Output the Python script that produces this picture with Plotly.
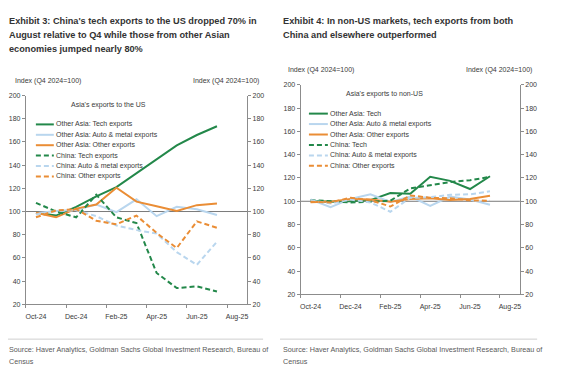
import plotly.graph_objects as go

W, H = 574, 375

# ---------------- data ----------------
months = ["Oct-24", "Nov-24", "Dec-24", "Jan-25", "Feb-25", "Mar-25",
          "Apr-25", "May-25", "Jun-25", "Jul-25"]
axis_months = months + ["Aug-25"]
tick_labels = ["Oct-24", "Dec-24", "Feb-25", "Apr-25", "Jun-25", "Aug-25"]
y_ticks = [20, 40, 60, 80, 100, 120, 140, 160, 180, 200]

# Exhibit 3: Asia's exports to the US (index, Q4 2024 = 100)
us_oa_tech = [99, 96.5, 104, 113, 121, 133, 145, 157, 166, 173.5]
us_oa_auto = [98.5, 100.5, 101.5, 106, 99.5, 110.5, 96, 104, 102, 97]
us_oa_other = [99, 95, 102.5, 106, 120.5, 108.5, 104.5, 100.5, 105.5, 107]
us_cn_tech = [107.5, 100, 95, 114.5, 95, 90, 47, 34, 35.5, 31]
us_cn_auto = [97.5, 100.5, 101, 96, 88, 84, 81, 65, 54, 74]
us_cn_other = [95, 101, 102, 92, 89, 96.5, 81.5, 68.5, 91.5, 86]

# Exhibit 4: Asia's exports to non-US (index, Q4 2024 = 100)
nu_oa_tech = [100, 99.5, 100, 101, 107, 106.5, 121, 117.5, 110.5, 121.5]
nu_oa_auto = [101.5, 95, 102, 106, 99.5, 104, 96, 104, 101.5, 97]
nu_oa_other = [99.2, 99.7, 102, 101.5, 99.7, 102, 102.5, 101, 102, 104.8]
nu_cn_tech = [101, 100, 99, 99.5, 100.5, 111, 114, 116.5, 118, 121]
nu_cn_auto = [101, 98, 101.5, 99, 91, 103, 103.5, 105.5, 106, 108.5]
nu_cn_other = [99.5, 99, 103, 101, 95.5, 105, 103, 102.5, 100.8, 100.5]

names_us = ["Other Asia: Tech exports", "Other Asia: Auto & metal exports",
            "Other Asia: Other exports", "China: Tech exports",
            "China: Auto & metal exports", "China: Other exports"]
names_nu = ["Other Asia: Tech", "Other Asia: Auto & metal exports",
            "Other Asia: Other exports", "China: Tech",
            "China: Auto & metal exports", "China: Other exports"]

title_left = ["Exhibit 3: China's tech exports to the US dropped 70% in",
              "August relative to Q4 while those from other Asian",
              "economies jumped nearly 80%"]
title_right = ["Exhibit 4: In non-US markets, tech exports from both",
               "China and elsewhere outperformed"]
source_lines = ["Source: Haver Analytics, Goldman Sachs Global Investment Research, Bureau of",
                "Census"]

# ---------------- styles ----------------
GREEN = "#23884a"
BLUE = "#b9d6ee"
ORANGE = "#ea8d35"
colors = [GREEN, BLUE, ORANGE, GREEN, BLUE, ORANGE]
dashes = ["solid", "solid", "solid", "5px,3px", "5px,3px", "5px,3px"]
AX = "#8c8c8c"
TXT = "#3a3a3a"
FONT = "Liberation Sans, Arial, sans-serif"

x_idx = list(range(len(months)))
tickvals = [axis_months.index(t) for t in tick_labels]


def px(x):
    return x / W


def py(y):
    return 1 - y / H


fig = go.Figure()

us_series = [us_oa_tech, us_oa_auto, us_oa_other, us_cn_tech, us_cn_auto, us_cn_other]
nu_series = [nu_oa_tech, nu_oa_auto, nu_oa_other, nu_cn_tech, nu_cn_auto, nu_cn_other]

for vals, name, c, d in zip(us_series, names_us, colors, dashes):
    fig.add_trace(go.Scatter(x=x_idx, y=vals, name=name, mode="lines",
                             line=dict(color=c, width=2, dash=d),
                             xaxis="x", yaxis="y", showlegend=False))
for vals, name, c, d in zip(nu_series, names_nu, colors, dashes):
    fig.add_trace(go.Scatter(x=x_idx, y=vals, name=name, mode="lines",
                             line=dict(color=c, width=2, dash=d),
                             xaxis="x2", yaxis="y3", showlegend=False))
# invisible traces to activate the right-hand axes
fig.add_trace(go.Scatter(x=x_idx, y=us_oa_tech, xaxis="x", yaxis="y2", mode="lines",
                         line=dict(width=0), opacity=0, hoverinfo="skip", showlegend=False))
fig.add_trace(go.Scatter(x=x_idx, y=nu_oa_tech, xaxis="x2", yaxis="y4", mode="lines",
                         line=dict(width=0), opacity=0, hoverinfo="skip", showlegend=False))

# plot areas (pixels)
L_X0, L_X1, L_Y0, L_Y1 = 25, 247, 93.3, 306
R_X0, R_X1, R_Y0, R_Y1 = 300.7, 520.7, 82.3, 296


def xaxis_cfg(x0, x1, anchor):
    return dict(domain=[px(x0), px(x1)], anchor=anchor, range=[-0.5, 10.5],
                tickmode="array", tickvals=tickvals, ticktext=tick_labels,
                ticks="outside", ticklen=5, tickcolor="rgba(0,0,0,0)",
                minor=dict(tickmode="linear", tick0=-0.5, dtick=2, ticks="outside",
                           ticklen=3, tickcolor=AX, showgrid=False),
                showline=True, linecolor=AX, linewidth=1, showgrid=False,
                zeroline=False, tickfont=dict(size=7, color=TXT, family=FONT))


def yaxis_cfg(y0, y1, anchor, side, overlay=None):
    d = dict(domain=[py(y1), py(y0)], anchor=anchor, range=[20, 200],
             tickmode="array", tickvals=y_ticks, side=side,
             ticks="outside", ticklen=3, tickcolor=AX,
             showline=True, linecolor=AX, linewidth=1, showgrid=False,
             zeroline=False, tickfont=dict(size=7, color=TXT, family=FONT))
    if overlay:
        d["overlaying"] = overlay
    return d


fig.update_layout(
    width=W, height=H, margin=dict(l=0, r=0, t=0, b=0),
    paper_bgcolor="white", plot_bgcolor="white",
    font=dict(family=FONT, size=7, color=TXT),
    xaxis=xaxis_cfg(L_X0, L_X1, "y"),
    yaxis=yaxis_cfg(L_Y0, L_Y1, "x", "left"),
    yaxis2=yaxis_cfg(L_Y0, L_Y1, "x", "right", "y"),
    xaxis2=xaxis_cfg(R_X0, R_X1, "y3"),
    yaxis3=yaxis_cfg(R_Y0, R_Y1, "x2", "left"),
    yaxis4=yaxis_cfg(R_Y0, R_Y1, "x2", "right", "y3"),
)

shapes = []
annotations = []

# 100 reference lines
for xr, yr in [("x domain", "y"), ("x2 domain", "y3")]:
    shapes.append(dict(type="line", xref=xr, yref=yr, x0=0, x1=1, y0=100, y1=100,
                       line=dict(color="#7a7a7a", width=1), layer="below"))


def text(t, x, y, xa="left", ya="middle", size=7, color=TXT, family=FONT):
    annotations.append(dict(text=t, xref="paper", yref="paper", x=px(x), y=py(y),
                            xanchor=xa, yanchor=ya, showarrow=False, align="left",
                            borderpad=0,
                            font=dict(size=size, color=color, family=family)))


# manual legends
def add_legend(names, x_line0, x_line1, x_text, y_first, step):
    for i, (n, c, d) in enumerate(zip(names, colors, dashes)):
        y = y_first + i * step
        shapes.append(dict(type="line", xref="paper", yref="paper",
                           x0=px(x_line0), x1=px(x_line1), y0=py(y), y1=py(y),
                           line=dict(color=c, width=2, dash=d)))
        text(n, x_text, y)


add_legend(names_us, 35, 53, 54, 122.7, 10.6)
add_legend(names_nu, 309, 328, 329, 111.7, 10.65)

# panel subtitles
text("Asia's exports to the US", 108, 103, xa="center")
text("Asia's exports to non-US", 385, 91.7, xa="center")

# axis titles
text("Index (Q4 2024=100)", 13, 78)
text("Index (Q4 2024=100)", 260, 78, xa="right")
text("Index (Q4 2024=100)", 287, 67)
text("Index (Q4 2024=100)", 534, 67, xa="right")

# titles
for i, line in enumerate(title_left):
    text("<b>" + line + "</b>", 7, 17.3 + i * 14.2, size=9.2, color="#333333")
for i, line in enumerate(title_right):
    text("<b>" + line + "</b>", 282, 17.3 + i * 14.2, size=9.2, color="#333333")

# sources
for i, line in enumerate(source_lines):
    text(line, 7, 352 + i * 12, size=7.2, color="#595959")
    text(line, 282, 352 + i * 12, size=7.2, color="#595959")

for x0, x1 in [(7, 263), (280, 538)]:
    shapes.append(dict(type="line", xref="paper", yref="paper", x0=px(x0), x1=px(x1),
                       y0=py(341.5), y1=py(341.5), line=dict(color="#cfcfcf", width=1)))

fig.update_layout(shapes=shapes, annotations=annotations)
fig.write_html("out.html", config={"staticPlot": True, "displayModeBar": False},
               post_script="document.body.style.margin='0';")
